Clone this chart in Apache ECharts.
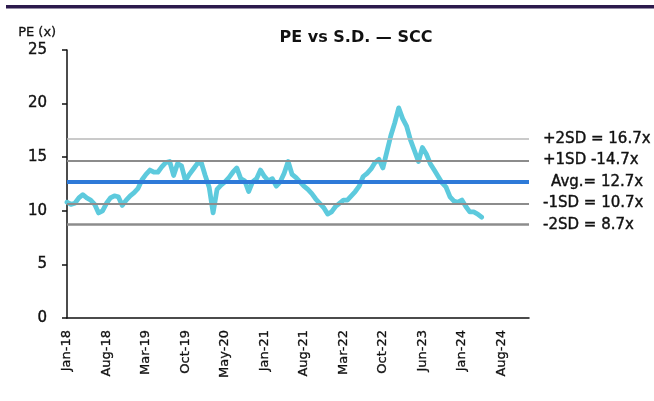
<!DOCTYPE html>
<html>
<head>
<meta charset="utf-8">
<script src="https://cdn.jsdelivr.net/npm/echarts@6/dist/echarts.min.js"></script>
<style>
html,body{margin:0;padding:0;background:#fff;}
#chart{width:654px;height:401px;}
</style>
</head>
<body>
<div id="chart"></div>
<script>
// ---- data ----
var tickLabels = ['Jan-18','Aug-18','Mar-19','Oct-19','May-20','Jan-21','Aug-21','Mar-22','Oct-22','Jun-23','Jan-24','Aug-24'];
var slotsPerTick = 10;
var totalSlots = 118;
var pe = [
 10.8,10.6,10.7,11.2,11.5,11.2,11.0,10.6,9.8,10.0,
 10.7,11.2,11.4,11.3,10.5,11.0,11.4,11.7,12.1,12.9,
 13.4,13.8,13.6,13.6,14.1,14.5,14.6,13.3,14.4,14.2,
 12.8,13.4,13.9,14.4,14.5,13.3,12.2,9.8,12.0,12.4,
 12.7,13.1,13.6,14.0,13.0,12.8,11.8,12.7,13.0,13.8,
 13.2,12.8,13.0,12.3,12.7,13.5,14.6,13.4,13.1,12.7,
 12.3,12.0,11.6,11.1,10.7,10.3,9.7,9.9,10.4,10.7,
 11.0,11.0,11.4,11.8,12.3,13.2,13.5,13.9,14.5,14.8,
 14.0,15.5,17.0,18.2,19.6,18.6,17.9,16.6,15.6,14.6,
 15.9,15.3,14.4,13.8,13.2,12.6,12.2,11.3,10.9,10.8,
 11.0,10.4,9.9,9.9,9.7,9.4
];
var sdLevels = [16.7, 14.7, 12.7, 10.7, 8.7];
var sdLabels = ['+2SD = 16.7x', '+1SD -14.7x', 'Avg.= 12.7x', '-1SD = 10.7x', '-2SD = 8.7x'];
var yTicks = [0, 5, 10, 15, 20, 25];

// ---- build ----
var categories = [];
for (var i = 0; i < totalSlots; i++) {
  categories.push(i % slotsPerTick === 0 && tickLabels[i / slotsPerTick] ? tickLabels[i / slotsPerTick] : ' ' + i);
}
var sdStyles = [
  {color:'#b9b9b9', width:1.6, pad:[0,0,8,0]},
  {color:'#8c8c8c', width:2, pad:[0,0,6,0]},
  {color:'#2e7ad8', width:4, pad:[0,0,4,8]},
  {color:'#8c8c8c', width:2, pad:[0,0,2,0]},
  {color:'#8c8c8c', width:2.5, pad:[4,0,0,0]}
];
var FONT = 'DejaVu Sans';
var mlData = sdLevels.map(function(v, k){
  return {
    yAxis: v,
    lineStyle: {color: sdStyles[k].color, width: sdStyles[k].width, type: 'solid'},
    label: {show: true, position: 'end', distance: 14, formatter: sdLabels[k],
            color: '#111', fontSize: 15, fontFamily: FONT, padding: sdStyles[k].pad,
            textBorderColor: '#111', textBorderWidth: 0.4}
  };
});

var chart = echarts.init(document.getElementById('chart'), null, {renderer: 'canvas'});
chart.setOption({
  animation: false,
  backgroundColor: '#fff',
  title: {
    text: 'PE vs S.D. — SCC',
    left: 351, top: 25, textAlign: 'center',
    textStyle: {fontFamily: FONT, fontWeight: 'bold', fontSize: 16, color: '#111'}
  },
  graphic: [
    {type: 'rect', left: 6, top: 5, shape: {width: 648, height: 3.5}, style: {fill: '#2c1a4c'}},
    {type: 'text', left: 18, top: 26, style: {text: 'PE (x)', font: '13px "DejaVu Sans"', fill: '#111', stroke: '#111', lineWidth: 0.3}}
  ],
  grid: {left: 67, right: 125, top: 50, bottom: 83, containLabel: false},
  xAxis: {
    type: 'category',
    data: categories,
    boundaryGap: false,
    axisLine: {show: true, lineStyle: {color: '#111', width: 1.5}},
    axisTick: {show: false},
    axisLabel: {
      interval: function(idx){ return idx % slotsPerTick === 0; },
      rotate: 90, margin: 12, fontSize: 13, fontFamily: FONT, color: '#111',
      textBorderColor: '#111', textBorderWidth: 0.3
    },
    splitLine: {show: false}
  },
  yAxis: {
    type: 'value',
    min: 0, max: 25, interval: 5,
    axisLine: {show: true, lineStyle: {color: '#111', width: 1.5}},
    axisTick: {show: true, inside: false, length: 5, lineStyle: {color: '#111', width: 1.5}},
    axisLabel: {margin: 20, fontSize: 15, fontFamily: FONT, color: '#111',
      textBorderColor: '#111', textBorderWidth: 0.4,
      formatter: function(v){ return yTicks.indexOf(v) >= 0 ? String(v) : ''; }},
    splitLine: {show: false}
  },
  series: [
    {
      type: 'line',
      data: pe,
      showSymbol: false,
      smooth: false,
      lineStyle: {color: '#5dcadd', width: 4.8, join: 'round', cap: 'round'},
      z: 2
    },
    {
      type: 'line',
      data: [],
      z: 5,
      markLine: {
        silent: true,
        symbol: ['none', 'none'],
        animation: false,
        data: mlData
      }
    }
  ]
});
</script>
</body>
</html>
